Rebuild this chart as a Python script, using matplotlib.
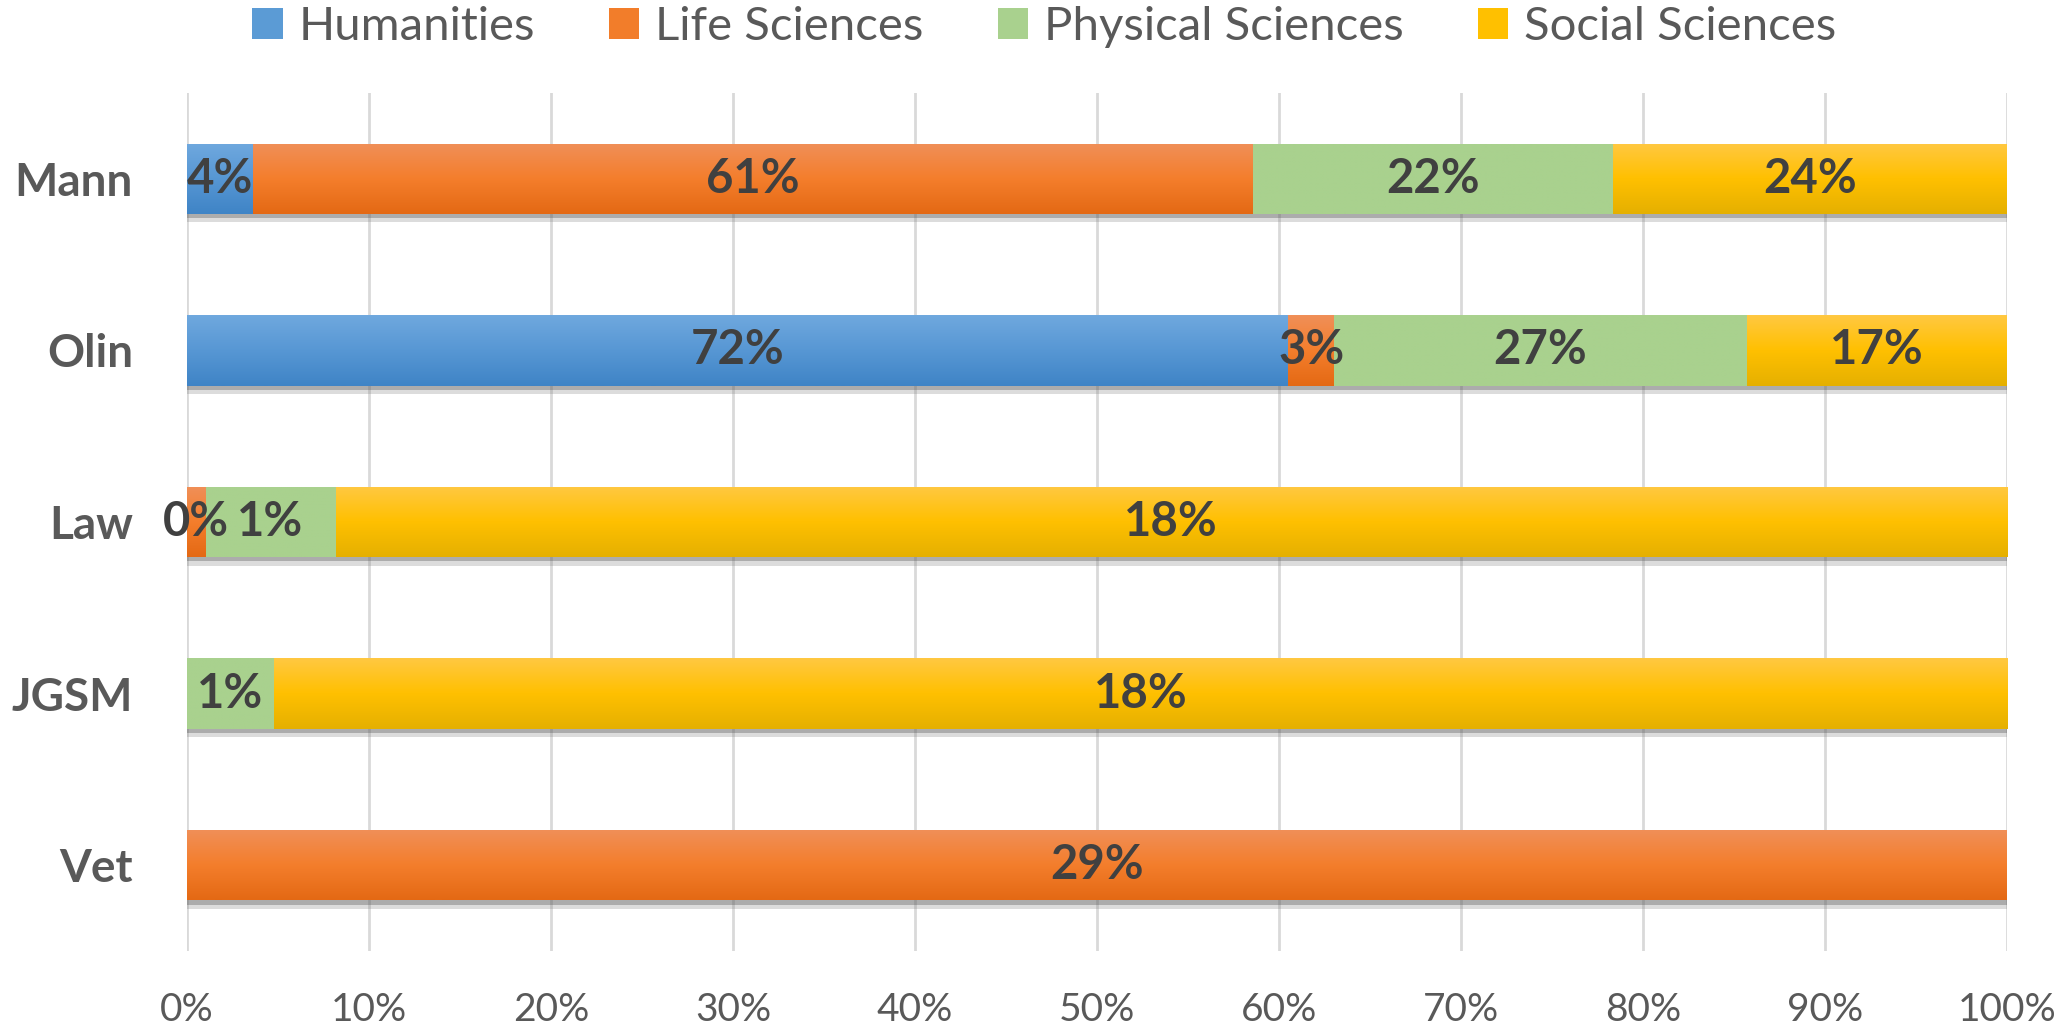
import numpy as np
import matplotlib
matplotlib.use("Agg")
import matplotlib.pyplot as plt
from matplotlib.colors import LinearSegmentedColormap
from matplotlib.patches import Patch
import matplotlib.patheffects as pe

categories = ["Mann", "Olin", "Law", "JGSM", "Vet"]
series = ["Humanities", "Life Sciences", "Physical Sciences", "Social Sciences"]
humanities = [4, 72, 0, 0, 0]
life_sciences = [61, 3, 0.2, 0, 29]
physical_sciences = [22, 27, 1.4, 0.9, 0]
social_sciences = [24, 17, 18, 18, 0]
xticks = [0, 10, 20, 30, 40, 50, 60, 70, 80, 90, 100]

values = np.array([humanities, life_sciences, physical_sciences, social_sciences], dtype=float)
totals = values.sum(axis=0)
shares = values / totals * 100

base_colors = ["#5B9BD5", "#F27D2A", "#A9D18E", "#FFC000"]
grad_stops = [
    ["#6FA8DE", "#5797D4", "#3F84C6"],
    ["#F08F58", "#F47E2C", "#E46914"],
    ["#A9D18E", "#A9D18E", "#A9D18E"],
    ["#FFC841", "#FFC000", "#E5B000"],
]

plt.rcParams["font.family"] = ["Lato", "DejaVu Sans"]

W, H = 2056, 1025
fig = plt.figure(figsize=(W / 100, H / 100), dpi=100)
ax = fig.add_axes([187 / W, (H - 951) / H, (2007 - 187) / W, (951 - 93) / H])

y = np.arange(len(categories))
h = 0.41
left = np.zeros(len(categories))
grad = np.linspace(0, 1, 64).reshape(-1, 1)
for i, name in enumerate(series):
    bars = ax.barh(y, shares[i], left=left, height=h, color=base_colors[i],
                   zorder=3, linewidth=0)
    cmap = LinearSegmentedColormap.from_list(name, grad_stops[i])
    for j, b in enumerate(bars):
        if values[i, j] <= 0:
            b.set_visible(False)
            continue
        b.set_path_effects([
            pe.SimplePatchShadow(offset=(0, -6), shadow_rgbFace="#777777", alpha=0.25),
            pe.SimplePatchShadow(offset=(0, -3), shadow_rgbFace="#555555", alpha=0.35),
            pe.Normal()])
        x0, w = b.get_x(), b.get_width()
        yc = y[j]
        im = ax.imshow(grad, extent=(x0, x0 + w, yc + h / 2, yc - h / 2), origin="upper",
                       aspect="auto", cmap=cmap, zorder=4, interpolation="bilinear")
        im.set_clip_path(b)
        ax.text(x0 + w / 2, yc, f"{round(values[i, j])}%", ha="center", va="center",
                fontsize=34, fontweight="bold", color="#404040", zorder=6)
    left = left + shares[i]

ax.set_xlim(0, 100)
ax.set_ylim(len(categories) - 0.5, -0.5)
ax.set_xticks(xticks)
ax.set_xticklabels([f"{t}%" for t in xticks])
ax.set_yticks(y)
ax.set_yticklabels(categories, fontweight="bold")
xpad, ypad = 26, 39
ax.tick_params(axis="x", length=0, pad=xpad, labelsize=28, labelcolor="#595959")
ax.tick_params(axis="y", length=0, pad=ypad, labelsize=33, labelcolor="#595959")
ax.grid(axis="x", color="#D9D9D9", linewidth=2, zorder=0)
ax.set_axisbelow(True)
for s in ax.spines.values():
    s.set_visible(False)

handles = [Patch(facecolor=c, edgecolor="none") for c in base_colors]
leg = fig.legend(handles, series, loc="upper center", bbox_to_anchor=(0.508, 0.995), ncol=4,
                 frameon=False, fontsize=34, handlelength=0.64, handleheight=0.64,
                 handletextpad=0.34, columnspacing=1.57, borderpad=0, labelcolor="#595959")

# fine-tune placement of text blocks to the reference pixel positions
fig.canvas.draw()
r = fig.canvas.get_renderer()
tb = leg.get_texts()[0].get_window_extent(r)
lb = leg.get_window_extent(r)
dy = (H - 6) - tb.y1
dx = 1044.5 - (lb.x0 + lb.x1) / 2
leg.set_bbox_to_anchor((0.508 + dx / W, 0.995 + dy / H), transform=fig.transFigure)

xb = ax.get_xticklabels()[0].get_window_extent(r)
ax.tick_params(axis="x", pad=xpad + (xb.y1 - (H - 992)) * 72 / 100)
yb = ax.get_yticklabels()[0].get_window_extent(r)
ax.tick_params(axis="y", pad=ypad + (yb.x1 - 133) * 72 / 100)

fig.savefig("out.png", dpi=100)
